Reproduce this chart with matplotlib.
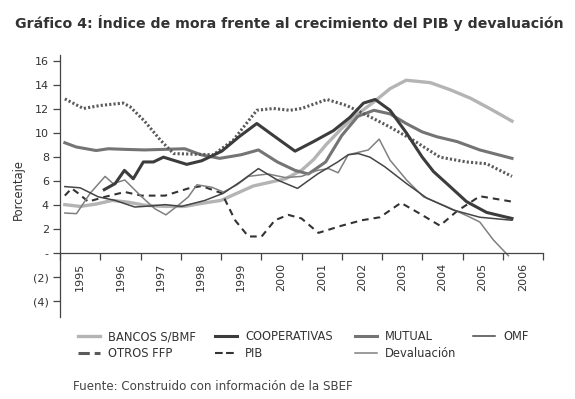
import matplotlib
matplotlib.use("Agg")
import matplotlib.pyplot as plt
from matplotlib.lines import Line2D

# years (decimal) and values, in %
bancos_x = [1995.12, 1995.5, 1995.9, 1996.3, 1996.7, 1997.1, 1997.6, 1998.1, 1998.6, 1999.0,
            1999.4, 1999.8, 2000.2, 2000.6, 2001.0, 2001.3, 2001.6, 2002.0, 2002.4, 2002.8,
            2003.2, 2003.6, 2004.2, 2004.7, 2005.2, 2005.7, 2006.23]
bancos_y = [4.05, 3.9, 4.1, 4.4, 4.25, 4.0, 3.9, 3.9, 4.2, 4.4,
            5.0, 5.6, 5.9, 6.2, 6.9, 7.8, 9.0, 10.4, 11.6, 12.6,
            13.7, 14.4, 14.2, 13.6, 12.9, 12.0, 11.0]

coop_x = [1996.1, 1996.37, 1996.6, 1996.82, 1997.07, 1997.32, 1997.57, 1997.81, 1998.15, 1998.52,
          1999.02, 1999.45, 1999.89, 2000.3, 2000.84, 2001.3, 2001.79, 2002.2, 2002.54, 2002.83,
          2003.2, 2003.61, 2004.0, 2004.28, 2004.61, 2005.1, 2005.6, 2006.1, 2006.23]
coop_y = [5.3, 5.8, 6.9, 6.2, 7.6, 7.6, 8.0, 7.75, 7.4, 7.7,
          8.5, 9.7, 10.8, 9.8, 8.5, 9.3, 10.2, 11.3, 12.5, 12.8,
          11.9, 10.0, 8.0, 6.8, 5.8, 4.3, 3.4, 3.0, 2.9]

mutual_x = [1995.12, 1995.4, 1995.9, 1996.2, 1996.6, 1997.1, 1997.6, 1998.1, 1998.5, 1998.97,
            1999.5, 1999.93, 2000.4, 2000.84, 2001.17, 2001.6, 2002.0, 2002.4, 2002.8, 2003.2,
            2003.6, 2004.0, 2004.36, 2004.86, 2005.43, 2006.23]
mutual_y = [9.2, 8.85, 8.55, 8.7, 8.65, 8.6, 8.65, 8.7, 8.2, 7.9,
            8.2, 8.6, 7.6, 6.9, 6.6, 7.6, 9.8, 11.4, 11.9, 11.6,
            10.8, 10.1, 9.7, 9.3, 8.6, 7.9]

omf_x = [1995.12, 1995.5, 1995.95, 1996.37, 1996.86, 1997.3, 1997.61, 1998.02, 1998.6, 1999.06,
         1999.5, 1999.93, 2000.4, 2000.9, 2001.4, 2001.9, 2002.16, 2002.41, 2002.7, 2003.07,
         2003.61, 2004.11, 2004.77, 2005.43, 2006.23]
omf_y = [5.55, 5.45, 4.7, 4.4, 3.85, 3.95, 4.05, 3.9, 4.4, 5.0,
         6.0, 7.05, 6.1, 5.4, 6.6, 7.6, 8.2, 8.3, 8.0, 7.2,
         5.8, 4.6, 3.6, 3.0, 2.75]

otros_x = [1995.12, 1995.58, 1996.0, 1996.57, 1996.74, 1997.1, 1997.5, 1997.82, 1998.3, 1998.81,
           1999.3, 1999.89, 2000.3, 2000.71, 2001.0, 2001.63, 2002.12, 2002.62, 2003.2, 2003.78,
           2004.44, 2005.1, 2005.6, 2006.23]
otros_y = [12.85, 12.05, 12.3, 12.5, 12.2, 11.0, 9.4, 8.3, 8.25, 8.2,
           9.4, 11.9, 12.05, 11.9, 12.05, 12.8, 12.3, 11.5, 10.5, 9.4,
           8.0, 7.6, 7.45, 6.4]

pib_x = [1995.12, 1995.29, 1995.45, 1995.7, 1996.12, 1996.61, 1997.03, 1997.61, 1998.19, 1998.52,
         1999.02, 1999.35, 1999.68, 2000.01, 2000.34, 2000.67, 2001.0, 2001.42, 2002.0, 2002.5,
         2002.95, 2003.47, 2003.94, 2004.44, 2004.86, 2005.43, 2006.23]
pib_y = [4.8, 5.4, 5.0, 4.3, 4.7, 5.1, 4.8, 4.8, 5.4, 5.6,
         5.0, 2.75, 1.4, 1.4, 2.75, 3.2, 2.9, 1.7, 2.3, 2.75,
         3.0, 4.2, 3.3, 2.3, 3.5, 4.75, 4.3]

deval_x = [1995.12, 1995.41, 1995.75, 1996.12, 1996.32, 1996.61, 1997.03, 1997.36, 1997.63, 1997.94,
           1998.19, 1998.4, 1998.77, 1999.06, 1999.4, 1999.68, 2000.17, 2000.6, 2001.0, 2001.4,
           2001.67, 2001.91, 2002.16, 2002.66, 2002.93, 2003.2, 2003.61, 2004.03, 2004.6, 2005.19,
           2005.43, 2005.77, 2006.14]
deval_y = [3.35, 3.3, 5.0, 6.4, 5.8, 6.1, 4.7, 3.7, 3.2, 4.0,
           4.7, 5.7, 5.5, 5.1, 5.7, 6.4, 6.6, 6.3, 6.4, 6.9,
           7.05, 6.7, 8.2, 8.6, 9.5, 7.75, 6.1, 4.7, 3.9, 3.0,
           2.6, 1.1, -0.2]

years = list(range(1995, 2007))
y_ticks = [-4, -2, 0, 2, 4, 6, 8, 10, 12, 14, 16]
y_labels = ['(4)', '(2)', '-', '2', '4', '6', '8', '10', '12', '14', '16']

W, H = 575, 399
fig = plt.figure(figsize=(W / 100, H / 100), dpi=100)
ax = fig.add_axes([60 / W, (H - 317) / H, 483 / W, 262 / H])

ax.plot(bancos_x, bancos_y, color='#b4b4b4', lw=2.4, label='BANCOS S/BMF')
ax.plot(mutual_x, mutual_y, color='#747474', lw=2.2, label='MUTUAL')
ax.plot(otros_x, otros_y, color='#5a5a5a', lw=2.2, ls=(0, (0.7, 0.7)), label='OTROS FFP')
ax.plot(pib_x, pib_y, color='#333333', lw=1.5, ls=(0, (3.2, 2.4)), label='PIB')
ax.plot(deval_x, deval_y, color='#808080', lw=1.1, label='Devaluación')
ax.plot(omf_x, omf_y, color='#454545', lw=1.1, label='OMF')
ax.plot(coop_x, coop_y, color='#3c3c3c', lw=2.2, label='COOPERATIVAS')

ax.set_xlim(1995, 2007)
ax.set_ylim(-5.3, 16.5)
for s in ['top', 'right']:
    ax.spines[s].set_visible(False)
ax.spines['bottom'].set_position(('data', 0))
for s in ['left', 'bottom']:
    ax.spines[s].set_color('#444444')
    ax.spines[s].set_linewidth(0.9)

ax.set_yticks(y_ticks)
ax.set_yticklabels(y_labels)
ax.tick_params(axis='y', length=5, width=0.9, color='#444444', labelsize=8, pad=3, labelcolor='#333333')

ax.set_xticks(list(range(1995, 2008)))
ax.set_xticklabels([])
ax.set_xticks([y + 0.5 for y in years], minor=True)
ax.set_xticklabels([str(y) for y in years], minor=True, rotation=90)
ax.tick_params(axis='x', which='major', direction='out', length=5, width=0.9, color='#444444')
ax.tick_params(axis='x', which='minor', length=0, labelsize=8, pad=7, labelcolor='#333333')

fig.text(15 / W, 1 - 28 / H, 'Gráfico 4: Índice de mora frente al crecimiento del PIB y devaluación',
         fontsize=10.2, fontweight='bold', color='#333333', va='baseline', ha='left')
fig.text(18 / W, 1 - 190 / H, 'Porcentaje', rotation=90, fontsize=8.3, color='#333333',
         va='center', ha='center')

# legend, laid out column by column as in the source
handles = {l.get_label(): l for l in ax.get_lines()}
columns = [(78, ['BANCOS S/BMF', 'OTROS FFP']),
           (215, ['COOPERATIVAS', 'PIB']),
           (355, ['MUTUAL', 'Devaluación']),
           (473, ['OMF'])]
for xpos, names in columns:
    hs = [Line2D([], [], color=handles[n].get_color(), lw=handles[n].get_linewidth(),
                 ls=handles[n].get_linestyle()) for n in names]
    leg = fig.legend(hs, names, loc='upper left', bbox_to_anchor=(xpos / W, 1 - 330 / H),
                     frameon=False, fontsize=8.3, handlelength=1.9, handletextpad=0.7,
                     labelspacing=0.35, borderpad=0, borderaxespad=0)
    for t in leg.get_texts():
        t.set_color('#333333')

fig.text(73 / W, 1 - 387 / H, 'Fuente: Construido con información de la SBEF',
         fontsize=8.55, color='#444444', va='center', ha='left')

fig.savefig('out.png', dpi=100)
